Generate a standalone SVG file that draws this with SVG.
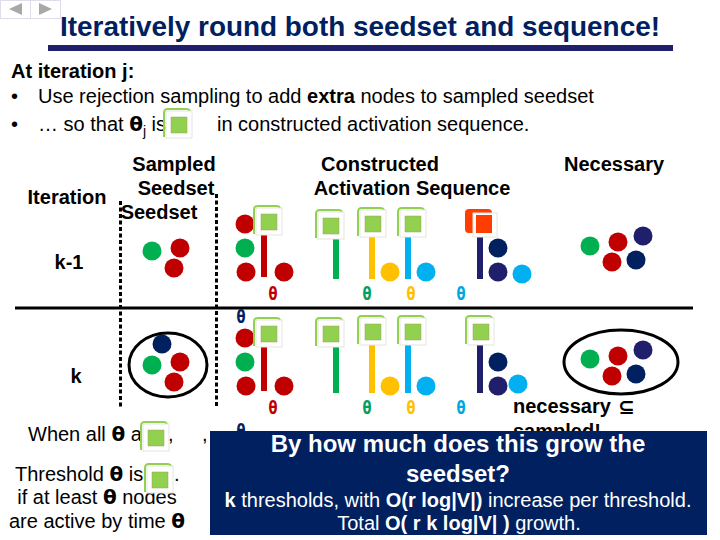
<svg xmlns="http://www.w3.org/2000/svg" width="720" height="540" viewBox="0 0 720 540">
<style>
text{font-family:"Liberation Sans",Arial,sans-serif;fill:#000}
.b{font-weight:700}
.t{font-size:20px}
.h{font-size:20px;font-weight:700;text-anchor:middle}
.m{font-size:20px;text-anchor:middle}
.q{font-family:"DejaVu Sans",sans-serif;font-weight:700}
.th{font-family:"DejaVu Sans",sans-serif;font-size:18px;font-weight:700;text-anchor:middle}
.w{fill:#fff;text-anchor:middle}
.ifr{fill:#fff;stroke:#e4e4dc;stroke-width:1}
.ig{fill:#92d050;stroke:#a0a060;stroke-width:.5}
.r{fill:#c00000}.g{fill:#00b050}.n{fill:#002060}.d{fill:#1f1f6b}.y{fill:#ffc000}.c{fill:#00b0f0}
</style>
<defs>
<g id="icon"><path d="M0 28V4Q0 0 4 0H22Q26 0 26 3" fill="none" stroke="#92d050" stroke-width="2"/><rect class="ifr" x="2" y="2" width="26" height="27"/><rect class="ig" x="7" y="8" width="16" height="16"/></g>
<circle id="dot" r="9.5"/>
</defs>
<rect width="720" height="540" fill="#fff"/>
<g id="nav"><rect x="0.500" y="0.500" width="30" height="18" fill="#fff" stroke="#dde"/><rect x="30.500" y="0.500" width="30" height="18" fill="#fff" stroke="#dde"/><path d="M22 3V15L9 9Z" fill="#a8a8a8"/><path d="M39 3V15L52 9Z" fill="#a8a8a8"/></g>
<g id="title"><text x="60" y="36" font-size="27" font-weight="700" style="fill:#002060" lengthAdjust="spacingAndGlyphs" textLength="600">Iteratively round both seedset and sequence!</text><rect x="48" y="45" width="625" height="6" fill="#1f1f6b"/></g>
<g id="intro">
<text x="11" y="78" class="t b">At iteration j:</text>
<text x="11" y="103" class="t">•</text><text x="38" y="103" class="t">Use rejection sampling to add <tspan class="b">extra</tspan> nodes to sampled seedset</text>
<text x="11" y="131" class="t">•</text><text x="38" y="131" class="t">… so that <tspan class="q">θ</tspan><tspan font-size="14" dy="5">j</tspan><tspan dy="-5"> is</tspan></text>
<text x="217" y="131" class="t">in  constructed activation sequence.</text>
<use href="#icon" x="164" y="109"/>
</g>
<g id="headers">
<text class="h" x="174" y="171">Sampled</text><text class="h" x="176" y="195">Seedset</text><text class="h" x="159" y="219">Seedset</text>
<text class="h" x="67" y="204">Iteration</text>
<text class="h" x="380" y="171">Constructed</text><text class="h" x="412" y="195">Activation Sequence</text>
<text class="h" x="614" y="171">Necessary</text>
<text class="h" x="69" y="269">k-1</text><text class="h" x="76" y="383">k</text>
</g>
<g id="connectors">
<line x1="15" y1="308" x2="693" y2="308" stroke="#000" stroke-width="3"/>
<line x1="120.500" y1="201" x2="120.500" y2="407" stroke="#000" stroke-width="3" stroke-dasharray="4 2.500"/>
<line x1="216.500" y1="194" x2="216.500" y2="407" stroke="#000" stroke-width="3" stroke-dasharray="4 2.500"/>
</g>
<g id="sampled-k1"><use href="#dot" class="g" x="152" y="251"/><use href="#dot" class="r" x="180" y="248"/><use href="#dot" class="r" x="174" y="268"/></g>
<g id="sampled-k"><ellipse cx="168" cy="365" rx="39" ry="32" fill="none" stroke="#000" stroke-width="3"/><use href="#dot" class="n" x="162" y="344"/><use href="#dot" class="g" x="152" y="365"/><use href="#dot" class="r" x="180" y="362"/><use href="#dot" class="r" x="174" y="382"/></g>
<g id="seq-k1">
<use href="#dot" class="r" x="245" y="224"/><use href="#dot" class="g" x="245" y="248"/><use href="#dot" class="r" x="246" y="272"/><use href="#dot" class="r" x="284" y="272"/>
<rect class="r" x="261" y="235" width="6" height="42"/><use href="#icon" x="254" y="206"/>
<rect class="g" x="333" y="239" width="6" height="40"/><use href="#icon" x="316" y="210"/>
<rect class="y" x="369" y="237" width="6" height="42"/><use href="#icon" x="358" y="208"/><use href="#dot" class="y" x="390" y="272"/>
<rect class="c" x="405" y="237" width="6" height="42"/><use href="#icon" x="398" y="208"/><use href="#dot" class="c" x="426" y="272"/>
<rect class="d" x="477" y="236" width="6" height="43"/>
<rect x="465" y="209" width="27" height="24" rx="4" fill="#ff3d00"/><rect x="473" y="213" width="24" height="24" fill="#fff" stroke="#e4e4dc"/><rect x="476" y="215" width="16" height="18" fill="#ff3d00"/>
<use href="#dot" class="n" x="498" y="248"/><use href="#dot" class="d" x="498" y="272"/><use href="#dot" class="c" x="522" y="274"/>
<text class="th" x="273" y="300" style="fill:#c00000" textLength="9" lengthAdjust="spacingAndGlyphs">θ</text><text class="th" x="367" y="300" style="fill:#00a060" textLength="9" lengthAdjust="spacingAndGlyphs">θ</text><text class="th" x="411" y="300" style="fill:#ffc000" textLength="9" lengthAdjust="spacingAndGlyphs">θ</text><text class="th" x="461" y="300" style="fill:#00a8e0" textLength="9" lengthAdjust="spacingAndGlyphs">θ</text>
</g>
<g id="necessary-k1"><use href="#dot" class="g" x="590" y="246"/><use href="#dot" class="r" x="618" y="242"/><use href="#dot" class="d" x="643" y="236"/><use href="#dot" class="r" x="612" y="262"/><use href="#dot" class="n" x="636" y="260"/></g>
<g id="seq-k">
<text class="th" x="241" y="323" style="fill:#002060" textLength="9" lengthAdjust="spacingAndGlyphs">θ</text>
<use href="#dot" class="r" x="245" y="338"/><use href="#dot" class="g" x="245" y="362"/><use href="#dot" class="r" x="246" y="386"/><use href="#dot" class="r" x="284" y="386"/>
<rect class="r" x="261" y="347" width="6" height="44"/><use href="#icon" x="254" y="318"/>
<rect class="g" x="333" y="347" width="6" height="46"/><use href="#icon" x="316" y="318"/>
<rect class="y" x="369" y="345" width="6" height="48"/><use href="#icon" x="358" y="316"/><use href="#dot" class="y" x="390" y="386"/>
<rect class="c" x="405" y="345" width="6" height="48"/><use href="#icon" x="398" y="316"/><use href="#dot" class="c" x="426" y="386"/>
<rect class="d" x="477" y="345" width="6" height="48"/><use href="#icon" x="466" y="316"/>
<use href="#dot" class="n" x="498" y="362"/><use href="#dot" class="d" x="498" y="386"/><use href="#dot" class="c" x="518" y="384"/>
<text class="th" x="273" y="414" style="fill:#c00000" textLength="9" lengthAdjust="spacingAndGlyphs">θ</text><text class="th" x="367" y="414" style="fill:#00a060" textLength="9" lengthAdjust="spacingAndGlyphs">θ</text><text class="th" x="411" y="414" style="fill:#ffc000" textLength="9" lengthAdjust="spacingAndGlyphs">θ</text><text class="th" x="461" y="414" style="fill:#00a8e0" textLength="9" lengthAdjust="spacingAndGlyphs">θ</text>
</g>
<g id="necessary-k"><ellipse cx="621" cy="362" rx="57" ry="32" fill="none" stroke="#000" stroke-width="3"/><use href="#dot" class="g" x="590" y="359"/><use href="#dot" class="r" x="618" y="356"/><use href="#dot" class="d" x="643" y="350"/><use href="#dot" class="r" x="612" y="376"/><use href="#dot" class="n" x="636" y="374"/></g>
<g id="notes">
<text class="t b" x="513" y="413">necessary</text><text class="q" x="618" y="414" font-size="20">⊆</text>
<text class="t b" x="513" y="438">sampled!</text>
<text class="th" x="241" y="437" style="fill:#002060" textLength="9" lengthAdjust="spacingAndGlyphs">θ</text>
<text x="28" y="441" class="t">When all <tspan class="q">θ</tspan> a</text><text x="168" y="441" class="t">,</text><text x="202" y="441" class="t">,</text>
<text class="t" x="15" y="481">Threshold <tspan class="q">θ</tspan> is</text><text x="174" y="481" class="t">.</text>
<text class="m" x="97" y="504">if at least <tspan class="q">θ</tspan> nodes</text>
<text class="m" x="97" y="528">are active by time <tspan class="q">θ</tspan></text>
<use href="#icon" x="141" y="422"/><use href="#icon" x="145" y="464"/>
</g>
<g id="callout">
<rect x="210" y="431" width="497" height="104" fill="#002060"/>
<text class="w b" x="458" y="452" font-size="24">By how much does this grow the</text>
<text class="w b" x="458" y="482" font-size="24">seedset?</text>
<text class="w" x="458" y="507" font-size="20"><tspan class="b">k</tspan> thresholds, with <tspan class="b">O(r log|V|)</tspan> increase per threshold.</text>
<text class="w" x="459" y="530" font-size="20">Total <tspan class="b">O( r k log|V| )</tspan> growth.</text>
</g>
</svg>
